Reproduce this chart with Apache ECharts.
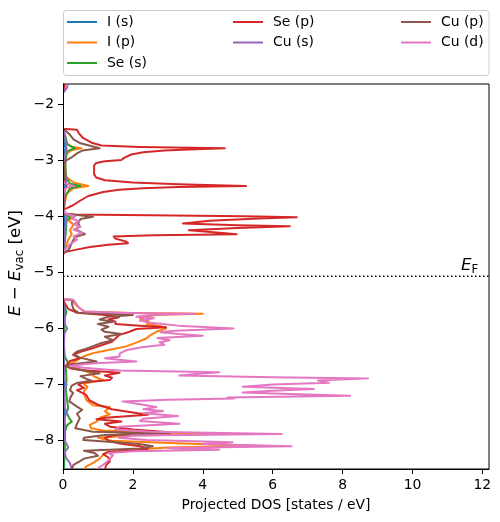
<!DOCTYPE html>
<html><head><meta charset="utf-8">
<script src="https://cdn.jsdelivr.net/npm/echarts@6/dist/echarts.min.js"></script>
<style>html,body{margin:0;padding:0;background:#fff}#c{width:500px;height:522px}</style>
</head><body><div id="c"></div>
<script>
const seriesNames = ['I (s)', 'I (p)', 'Se (s)', 'Se (p)', 'Cu (s)', 'Cu (p)', 'Cu (d)'];
const seriesColors = ['#1f77b4', '#ff7f0e', '#2ca02c', '#d62728', '#9467bd', '#8c564b', '#e377c2'];
const xTicks = [0, 2, 4, 6, 8, 10, 12];
const yTicks = [-8, -7, -6, -5, -4, -3, -2];
const fermiLevel = -5.07;

// [energy (eV), projected DOS (states/eV)]
const I_s = [[-1.64,0],[-2.45,0],[-2.55,0.02],[-2.75,0.04],[-2.79,0.08],[-2.84,0.03],[-3.40,0.03],[-3.46,0.07],[-3.52,0.02],[-3.88,0],[-3.98,0.02],[-4.02,0.05],[-4.30,0.03],[-4.65,0],[-5.48,0],[-5.60,0.02],[-5.73,0.05],[-6.00,0.03],[-6.50,0.02],[-6.90,0.03],[-7.50,0.04],[-7.88,0.06],[-8.10,0.05],[-8.50,0.03]];

const I_p = [[-1.64,0],[-2.45,0],[-2.50,0.03],[-2.70,0.1],[-2.76,0.25],[-2.79,0.53],[-2.82,0.25],[-2.90,0.08],[-3.10,0.05],[-3.30,0.1],[-3.40,0.3],[-3.46,0.72],[-3.50,0.3],[-3.60,0.1],[-3.85,0.03],[-3.90,0],[-3.97,0.05],[-4.02,0.3],[-4.07,0.15],[-4.15,0.3],[-4.25,0.2],[-4.32,0.25],[-4.42,0.15],[-4.55,0.08],[-4.65,0],
[-5.48,0],[-5.50,0.25],[-5.60,0.4],[-5.70,0.6],[-5.725,2.0],[-5.74,4.0],[-5.755,2.7],[-5.78,2.48],[-5.82,2.2],[-5.87,2.45],[-5.92,2.4],[-5.96,2.8],[-6.00,2.95],[-6.06,2.67],[-6.12,2.5],[-6.18,2.38],[-6.24,2.15],[-6.32,1.81],[-6.38,1.34],[-6.44,0.86],[-6.50,0.58],[-6.57,0.4],[-6.65,0.14],[-6.70,0.3],[-6.75,0.6],[-6.80,0.8],[-6.86,0.9],[-6.92,1.15],[-6.98,0.58],[-7.04,0.7],[-7.12,0.6],[-7.20,0.62],[-7.28,0.67],[-7.37,0.86],[-7.40,1.34],[-7.48,1.2],[-7.53,1.34],[-7.58,1.1],[-7.66,0.96],[-7.72,0.77],[-7.78,0.8],[-7.82,1.14],[-7.85,2.5],[-7.88,4.52],[-7.91,2.0],[-7.95,1.0],[-8.00,1.4],[-8.05,3.43],[-8.09,5.52],[-8.12,3.0],[-8.16,2.0],[-8.20,1.3],[-8.25,1.15],[-8.32,1.05],[-8.40,0.85],[-8.46,0.67],[-8.51,0.6]];

const Se_s = [[-1.64,0],[-2.45,0],[-2.47,0.05],[-2.60,0.08],[-2.72,0.12],[-2.79,0.34],[-2.84,0.12],[-3.00,0.07],[-3.30,0.08],[-3.42,0.2],[-3.46,0.5],[-3.50,0.2],[-3.65,0.06],[-3.87,0.03],[-3.92,0],[-3.97,0.05],[-4.02,0.2],[-4.08,0.1],[-4.30,0.08],[-4.60,0.03],[-4.65,0],
[-5.48,0],[-5.55,0.03],[-5.72,0.1],[-5.80,0.05],[-6.00,0.04],[-6.30,0.03],[-6.50,0.05],[-6.62,0.15],[-6.70,0.08],[-6.90,0.1],[-7.10,0.08],[-7.30,0.12],[-7.42,0.15],[-7.50,0.1],[-7.60,0.18],[-7.66,0.25],[-7.72,0.12],[-7.85,0.05],[-8.00,0.04],[-8.20,0.03],[-8.51,0.02]];

const Se_p = [[-1.64,0.06],[-1.70,0.04],[-1.78,0],[-2.44,0],[-2.46,0.4],[-2.52,0.45],[-2.61,0.58],[-2.69,0.82],[-2.74,1.1],[-2.765,2.2],[-2.79,4.63],[-2.81,3.6],[-2.83,2.9],[-2.86,2.3],[-2.90,1.95],[-2.96,1.75],[-3.00,1.67],[-3.02,1.2],[-3.05,0.95],[-3.10,0.89],[-3.25,0.89],[-3.31,0.95],[-3.36,1.2],[-3.40,2.0],[-3.43,3.3],[-3.46,5.24],[-3.48,3.3],[-3.50,2.3],[-3.53,1.6],[-3.57,1.15],[-3.64,0.72],[-3.72,0.5],[-3.80,0.3],[-3.86,0.1],[-3.88,0],[-3.95,0.02],[-3.97,0.3],[-3.985,2.5],[-4.00,5.2],[-4.02,6.69],[-4.04,5.6],[-4.08,4.2],[-4.13,3.43],[-4.16,5.0],[-4.18,6.49],[-4.21,5.0],[-4.25,3.6],[-4.29,4.4],[-4.32,4.97],[-4.34,2.6],[-4.36,1.45],[-4.40,1.5],[-4.45,1.8],[-4.48,1.86],[-4.51,1.3],[-4.55,0.77],[-4.60,0.35],[-4.64,0.05],[-4.68,0],
[-5.48,0],[-5.55,0.05],[-5.65,0.15],[-5.72,0.4],[-5.76,1.2],[-5.80,1.6],[-5.84,1.3],[-5.88,1.5],[-5.92,1.5],[-5.95,2.2],[-5.98,2.95],[-6.01,2.1],[-6.06,1.9],[-6.12,1.6],[-6.18,1.5],[-6.24,1.39],[-6.30,1.1],[-6.36,0.82],[-6.42,0.48],[-6.47,0.29],[-6.53,0.48],[-6.58,0.2],[-6.65,0.1],[-6.71,0.2],[-6.74,0.48],[-6.79,1.62],[-6.84,1.2],[-6.88,1.4],[-6.92,1.34],[-6.96,0.6],[-7.00,0.44],[-7.06,0.6],[-7.10,0.4],[-7.19,0.67],[-7.28,0.75],[-7.36,1.0],[-7.44,1.4],[-7.48,1.81],[-7.54,2.43],[-7.59,1.2],[-7.62,0.96],[-7.66,1.67],[-7.70,1.2],[-7.75,1.34],[-7.80,2.0],[-7.85,3.05],[-7.90,1.5],[-7.95,1.2],[-8.00,1.3],[-8.05,1.62],[-8.10,2.2],[-8.14,2.43],[-8.17,2.19],[-8.20,1.3],[-8.24,1.15],[-8.30,1.3],[-8.37,1.34],[-8.43,1.24],[-8.51,1.2]];

const Cu_s = [[-1.64,0.14],[-1.70,0.12],[-1.76,0.06],[-1.80,0],[-2.45,0],[-2.50,0.03],[-2.79,0.1],[-3.00,0.03],[-3.46,0.1],[-3.60,0.02],[-3.90,0],[-4.00,0.1],[-4.30,0.05],[-4.65,0],
[-5.48,0],[-5.60,0.02],[-5.90,0.03],[-6.00,0.12],[-6.10,0.03],[-6.50,0.02],[-6.90,0.03],[-7.00,0.1],[-7.10,0.03],[-7.40,0.05],[-7.50,0.1],[-7.58,0.05],[-7.80,0.03],[-8.00,0.05],[-8.12,0.15],[-8.20,0.05],[-8.30,0.08],[-8.40,0.2],[-8.51,0.25]];

const Cu_p = [[-1.64,0],[-2.44,0],[-2.47,0.06],[-2.55,0.2],[-2.63,0.3],[-2.70,0.5],[-2.75,0.8],[-2.79,1.05],[-2.83,0.55],[-2.88,0.4],[-2.95,0.25],[-3.01,0.08],[-3.10,0.03],[-3.40,0.05],[-3.46,0.1],[-3.55,0.04],[-3.87,0.02],[-3.95,0.05],[-3.98,0.4],[-4.01,0.86],[-4.05,0.5],[-4.13,0.43],[-4.18,0.48],[-4.23,0.35],[-4.28,0.5],[-4.32,0.63],[-4.37,0.35],[-4.45,0.27],[-4.55,0.2],[-4.61,0.15],[-4.64,0.02],[-4.68,0],
[-5.48,0],[-5.49,0.28],[-5.55,0.25],[-5.66,0.3],[-5.72,0.45],[-5.76,2.0],[-5.79,1.3],[-5.84,1.05],[-5.88,1.43],[-5.92,1.0],[-5.97,1.3],[-6.02,1.1],[-6.06,1.2],[-6.10,1.67],[-6.15,1.2],[-6.21,1.43],[-6.27,1.05],[-6.36,0.67],[-6.41,0.4],[-6.46,0.3],[-6.52,0.48],[-6.59,0.96],[-6.64,0.25],[-6.67,0.05],[-6.70,0.25],[-6.75,0.6],[-6.80,1.05],[-6.85,0.5],[-6.90,0.67],[-6.93,0.82],[-6.97,0.4],[-7.02,0.25],[-7.10,0.2],[-7.15,0.29],[-7.22,0.22],[-7.30,0.18],[-7.39,0.39],[-7.45,0.55],[-7.52,0.4],[-7.60,0.48],[-7.70,0.4],[-7.78,0.35],[-7.84,0.86],[-7.87,3.05],[-7.90,1.2],[-7.95,0.6],[-7.99,0.58],[-8.03,1.5],[-8.06,2.19],[-8.10,2.57],[-8.14,2.2],[-8.18,0.6],[-8.22,0.9],[-8.27,1.0],[-8.32,0.6],[-8.38,0.45],[-8.43,0.3],[-8.51,0.25]];

const Cu_d = [[-1.64,0],[-3.38,0],[-3.42,0.08],[-3.46,0.3],[-3.50,0.08],[-3.56,0.02],[-3.90,0],[-3.96,0.1],[-4.00,0.35],[-4.04,0.25],[-4.09,0.45],[-4.14,0.3],[-4.19,0.5],[-4.24,0.3],[-4.30,0.55],[-4.36,0.3],[-4.42,0.4],[-4.50,0.2],[-4.58,0.08],[-4.64,0],
[-5.48,0],[-5.49,0.3],[-5.52,0.33],[-5.58,0.4],[-5.64,0.48],[-5.70,0.63],[-5.725,1.8],[-5.74,3.76],[-5.755,2.6],[-5.79,2.1],[-5.82,2.6],[-5.86,2.2],[-5.90,2.5],[-5.95,3.3],[-6.00,4.88],[-6.04,3.2],[-6.07,2.8],[-6.10,3.3],[-6.13,4.0],[-6.17,2.7],[-6.21,3.05],[-6.25,2.76],[-6.29,2.9],[-6.33,2.3],[-6.39,1.8],[-6.45,1.62],[-6.50,1.62],[-6.53,1.2],[-6.56,1.6],[-6.59,2.1],[-6.62,0.9],[-6.65,0.4],[-6.67,0.2],[-6.70,0.6],[-6.73,1.2],[-6.75,1.62],[-6.78,4.47],[-6.81,3.8],[-6.84,3.33],[-6.87,6.0],[-6.89,8.73],[-6.93,7.3],[-6.97,7.61],[-7.00,6.0],[-7.04,5.14],[-7.08,7.18],[-7.11,6.0],[-7.14,5.14],[-7.17,6.5],[-7.20,8.22],[-7.23,4.71],[-7.25,4.9],[-7.27,3.0],[-7.30,1.7],[-7.35,2.2],[-7.40,2.67],[-7.44,2.3],[-7.47,2.86],[-7.51,2.3],[-7.56,3.29],[-7.61,2.29],[-7.65,2.2],[-7.70,3.33],[-7.75,1.62],[-7.80,1.5],[-7.84,2.5],[-7.88,6.26],[-7.91,2.0],[-7.95,1.6],[-7.99,2.4],[-8.03,4.85],[-8.06,4.0],[-8.10,6.54],[-8.13,3.0],[-8.16,4.47],[-8.19,2.0],[-8.22,1.3],[-8.26,1.43],[-8.32,1.35],[-8.38,1.25],[-8.43,1.15],[-8.51,0.96]];

const seriesData = [I_s, I_p, Se_s, Se_p, Cu_s, Cu_p, Cu_d];

const FONT = 'DejaVu Sans';
const chart = echarts.init(document.getElementById('c'), null, {renderer: 'canvas'});

const legendCommon = {
  orient: 'vertical', itemWidth: 30, itemHeight: 2, itemGap: 6.5, padding: 0, icon: 'rect',
  selectedMode: false,
  textStyle: {fontFamily: FONT, fontSize: 13.9, color: '#000', lineHeight: 14, padding: [0, 0, 0, 5]}
};

const series = seriesNames.map((name, i) => ({
  name: name, type: 'line', showSymbol: false, symbol: 'none', animation: false,
  color: seriesColors[i],
  itemStyle: {color: seriesColors[i]},
  lineStyle: {width: 2, color: seriesColors[i], join: 'round'},
  data: seriesData[i].map(p => [p[1], p[0]]),
  z: 2
}));
series.push({
  name: 'EF', type: 'line', showSymbol: false, symbol: 'none', animation: false, silent: true,
  lineStyle: {width: 1.5, color: '#000', type: [1.5, 2.5]},
  data: [[0, fermiLevel], [12.19, fermiLevel]], z: 3
});

chart.setOption({
  animation: false,
  backgroundColor: '#fff',
  grid: {left: 63, top: 84, width: 426, height: 385, show: true, borderColor: '#000', borderWidth: 1, backgroundColor: 'transparent'},
  legend: [
    Object.assign({data: ['I (s)', 'I (p)', 'Se (s)'], left: 67, top: 15}, legendCommon),
    Object.assign({data: ['Se (p)', 'Cu (s)'], left: 233, top: 15}, legendCommon),
    Object.assign({data: ['Cu (p)', 'Cu (d)'], left: 401, top: 15}, legendCommon)
  ],
  xAxis: {
    type: 'value', min: 0, max: 12.19, z: 5,
    axisLine: {show: true, lineStyle: {color: '#000', width: 1}},
    axisTick: {show: true, length: 5, lineStyle: {color: '#000', width: 1}, customValues: xTicks},
    axisLabel: {customValues: xTicks, margin: 9, color: '#000', fontFamily: FONT, fontSize: 13.9},
    splitLine: {show: false}
  },
  yAxis: {
    type: 'value', min: -8.505, max: -1.644, z: 5,
    axisLine: {show: false},
    axisTick: {show: true, length: 5, lineStyle: {color: '#000', width: 1}, customValues: yTicks},
    axisLabel: {customValues: yTicks, margin: 9, color: '#000', fontFamily: FONT, fontSize: 13.9,
      formatter: v => String(v).replace('-', '\u2212')},
    splitLine: {show: false}
  },
  graphic: [
    {type: 'rect', z: 0, shape: {x: 63.5, y: 10.5, width: 425.5, height: 65, r: 3},
      style: {fill: '#fff', stroke: '#cccccc', lineWidth: 1}},
    {type: 'rect', z: 4, silent: true, shape: {x: 59, y: 82, width: 4, height: 390},
      style: {fill: '#fff'}},
    {type: 'line', z: 20, silent: true, shape: {x1: 63.5, y1: 83.5, x2: 63.5, y2: 469.5},
      style: {stroke: '#000', lineWidth: 1}},
    {type: 'text', x: 16, y: 263, rotation: Math.PI / 2, z: 10,
      style: {text: '{i|E} \u2212 {i|E}{s|vac} [eV]', fontFamily: FONT, fontSize: 16.7, lineHeight: 20, fill: '#000',
        align: 'center', verticalAlign: 'middle',
        rich: {i: {fontStyle: 'italic', fontFamily: FONT, fontSize: 16.7, lineHeight: 20},
               s: {fontFamily: FONT, fontSize: 11.7, lineHeight: 10.4, verticalAlign: 'bottom'}}}},
    {type: 'text', x: 276, y: 505, z: 10,
      style: {text: 'Projected DOS [states / eV]', fontFamily: FONT, fontSize: 13.9, fill: '#000', align: 'center', verticalAlign: 'middle'}},
    {type: 'text', x: 461, y: 266, z: 10,
      style: {text: '{e|E}{f|F}', fontFamily: FONT, fontSize: 16.7, lineHeight: 20, fill: '#000', align: 'left', verticalAlign: 'middle',
        rich: {e: {fontStyle: 'italic', fontFamily: FONT, fontSize: 16.7, lineHeight: 20},
               f: {fontFamily: FONT, fontSize: 11.7, lineHeight: 15.4, verticalAlign: 'bottom'}}}}
  ],
  series: series
});
</script></body></html>
